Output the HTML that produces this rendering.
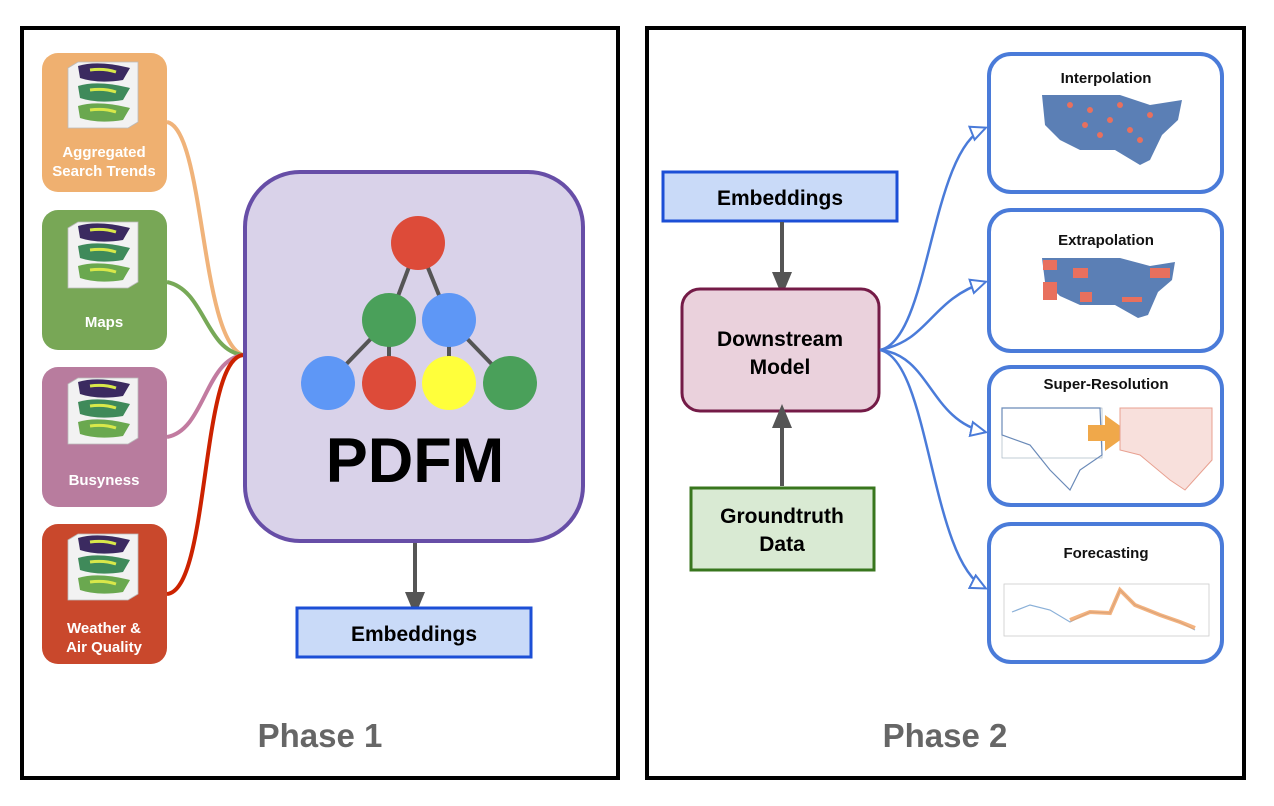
<!DOCTYPE html>
<html><head><meta charset="utf-8"><style>
html,body{margin:0;padding:0;background:#fff;}
svg{display:block;font-family:"Liberation Sans",sans-serif;}
</style></head><body>
<svg width="1274" height="806" viewBox="0 0 1274 806" xmlns="http://www.w3.org/2000/svg">
<defs>
<marker id="ah" markerWidth="18" markerHeight="18" refX="15" refY="9" orient="auto" markerUnits="userSpaceOnUse" viewBox="0 0 18 18">
<path d="M1,2 L16,9 L1,16 Z" fill="#fff" stroke="#4a7bd9" stroke-width="2"/></marker>
<marker id="gh" markerWidth="24" markerHeight="24" refX="12" refY="12" orient="auto" markerUnits="userSpaceOnUse" viewBox="0 0 24 24">
<path d="M0,2 L24,12 L0,22 Z" fill="#555"/></marker>
<g id="cube">
<path d="M0,6 L10,0 L70,0 L70,60 L60,66 L0,66 Z" fill="#f2f2f2" stroke="#bbb" stroke-width="0.8"/>
<path d="M10,4 Q30,-2 62,6 L55,18 Q30,22 12,16 Z" fill="#3b2a60"/>
<path d="M10,24 Q30,18 62,26 L55,38 Q30,42 12,36 Z" fill="#3f8a5a"/>
<path d="M10,44 Q30,38 62,46 L55,58 Q30,62 12,56 Z" fill="#6aa84f"/>
<path d="M22,8 Q36,6 48,10 M22,28 Q36,26 48,30 M22,48 Q36,46 48,50" stroke="#d8e84a" stroke-width="3" fill="none"/>
</g>
</defs>
<rect x="22" y="28" width="596" height="750" fill="#fff" stroke="#000" stroke-width="4"/>
<rect x="647" y="28" width="597" height="750" fill="#fff" stroke="#000" stroke-width="4"/>

<path d="M167,122 C205,130 200,340 243,355" stroke="#f0b37a" stroke-width="4" fill="none"/>
<path d="M167,282 C205,290 205,350 243,355" stroke="#77a957" stroke-width="4" fill="none"/>
<path d="M167,437 C205,430 205,360 243,355" stroke="#c27ba0" stroke-width="4" fill="none"/>
<path d="M167,594 C210,590 200,360 243,355" stroke="#cc2200" stroke-width="4" fill="none"/>

<rect x="42" y="53" width="125" height="139" rx="16" fill="#efb070"/>
<use href="#cube" x="68" y="62"/>
<text x="104" y="157" font-size="15" font-weight="bold" fill="#fff" text-anchor="middle">Aggregated</text>
<text x="104" y="176" font-size="15" font-weight="bold" fill="#fff" text-anchor="middle">Search Trends</text>
<rect x="42" y="210" width="125" height="140" rx="16" fill="#78a756"/>
<use href="#cube" x="68" y="222"/>
<text x="104" y="327" font-size="15" font-weight="bold" fill="#fff" text-anchor="middle">Maps</text>
<rect x="42" y="367" width="125" height="140" rx="16" fill="#b87c9e"/>
<use href="#cube" x="68" y="378"/>
<text x="104" y="485" font-size="15" font-weight="bold" fill="#fff" text-anchor="middle">Busyness</text>
<rect x="42" y="524" width="125" height="140" rx="16" fill="#c9482c"/>
<use href="#cube" x="68" y="534"/>
<text x="104" y="633" font-size="15" font-weight="bold" fill="#fff" text-anchor="middle">Weather &amp;</text>
<text x="104" y="652" font-size="15" font-weight="bold" fill="#fff" text-anchor="middle">Air Quality</text>

<rect x="245" y="172" width="338" height="369" rx="55" fill="#d9d2e9" stroke="#674ea7" stroke-width="4"/>
<g stroke="#555" stroke-width="4">
<line x1="418" y1="243" x2="389" y2="320"/><line x1="418" y1="243" x2="449" y2="320"/>
<line x1="389" y1="320" x2="328" y2="383"/><line x1="389" y1="320" x2="389" y2="383"/>
<line x1="449" y1="320" x2="449" y2="383"/><line x1="449" y1="320" x2="510" y2="383"/>
</g>
<circle cx="418" cy="243" r="27" fill="#dd4b39"/>
<circle cx="389" cy="320" r="27" fill="#4aa05a"/>
<circle cx="449" cy="320" r="27" fill="#5e97f6"/>
<circle cx="328" cy="383" r="27" fill="#5e97f6"/>
<circle cx="389" cy="383" r="27" fill="#dd4b39"/>
<circle cx="449" cy="383" r="27" fill="#ffff3b"/>
<circle cx="510" cy="383" r="27" fill="#4aa05a"/>
<text x="415" y="482" font-size="63" font-weight="bold" fill="#000" text-anchor="middle">PDFM</text>

<line x1="415" y1="543" x2="415" y2="604" stroke="#555" stroke-width="4" marker-end="url(#gh)"/>
<rect x="297" y="608" width="234" height="49" fill="#c9daf8" stroke="#1c4fd6" stroke-width="3"/>
<text x="414" y="641" font-size="21" font-weight="bold" text-anchor="middle">Embeddings</text>
<text x="320" y="747" font-size="33" font-weight="bold" fill="#666" text-anchor="middle">Phase 1</text>

<rect x="663" y="172" width="234" height="49" fill="#c9daf8" stroke="#1c4fd6" stroke-width="3"/>
<text x="780" y="205" font-size="21" font-weight="bold" text-anchor="middle">Embeddings</text>
<line x1="782" y1="222" x2="782" y2="284" stroke="#555" stroke-width="4" marker-end="url(#gh)"/>
<rect x="682" y="289" width="197" height="122" rx="18" fill="#ead1dc" stroke="#741b47" stroke-width="3"/>
<text x="780" y="346" font-size="21" font-weight="bold" text-anchor="middle">Downstream</text>
<text x="780" y="374" font-size="21" font-weight="bold" text-anchor="middle">Model</text>
<line x1="782" y1="486" x2="782" y2="416" stroke="#555" stroke-width="4" marker-end="url(#gh)"/>
<rect x="691" y="488" width="183" height="82" fill="#d9ead3" stroke="#38761d" stroke-width="3"/>
<text x="782" y="523" font-size="21" font-weight="bold" text-anchor="middle">Groundtruth</text>
<text x="782" y="551" font-size="21" font-weight="bold" text-anchor="middle">Data</text>
<text x="945" y="747" font-size="33" font-weight="bold" fill="#666" text-anchor="middle">Phase 2</text>

<g stroke="#4a7bd9" stroke-width="2.5" fill="none">
<path d="M880,350 C930,340 930,150 985,128" marker-end="url(#ah)"/>
<path d="M880,350 C930,340 930,300 985,282" marker-end="url(#ah)"/>
<path d="M880,350 C930,355 930,420 985,432" marker-end="url(#ah)"/>
<path d="M880,350 C930,360 930,560 985,588" marker-end="url(#ah)"/>
</g>

<g stroke="#4a7bd9" stroke-width="4" fill="#fff">
<rect x="989" y="54" width="233" height="138" rx="22"/>
<rect x="989" y="210" width="233" height="141" rx="22"/>
<rect x="989" y="367" width="233" height="138" rx="22"/>
<rect x="989" y="524" width="233" height="138" rx="22"/>
</g>
<g font-size="15" font-weight="bold" text-anchor="middle" fill="#111">
<text x="1106" y="83">Interpolation</text>
<text x="1106" y="245">Extrapolation</text>
<text x="1106" y="389">Super-Resolution</text>
<text x="1106" y="558">Forecasting</text>
</g>
<path d="M1042,95 L1120,95 L1150,105 L1182,100 L1178,120 L1162,135 L1150,160 L1140,165 L1115,150 L1080,150 L1060,140 L1045,125 Z" fill="#5b7fb5"/>
<g fill="#e8705e"><circle cx="1090" cy="110" r="3"/><circle cx="1110" cy="120" r="3"/><circle cx="1130" cy="130" r="3"/><circle cx="1100" cy="135" r="3"/><circle cx="1150" cy="115" r="3"/><circle cx="1070" cy="105" r="3"/><circle cx="1120" cy="105" r="3"/><circle cx="1140" cy="140" r="3"/><circle cx="1085" cy="125" r="3"/></g>
<path d="M1042,258 L1120,258 L1150,266 L1175,262 L1172,280 L1158,292 L1148,315 L1138,318 L1115,305 L1080,305 L1060,296 L1045,282 Z" fill="#5b7fb5"/>
<g fill="#e8705e"><rect x="1043" y="260" width="14" height="10"/><rect x="1073" y="268" width="15" height="10"/><rect x="1043" y="282" width="14" height="18"/><rect x="1080" y="292" width="12" height="10"/><rect x="1122" y="297" width="20" height="5"/><rect x="1150" y="268" width="20" height="10"/></g>
<rect x="1002" y="408" width="100" height="50" fill="#fff" stroke="#9ab" stroke-width="0.6"/>
<path d="M1002,408 L1100,408 L1102,455 L1080,470 L1070,490 L1050,470 L1030,445 L1002,435 Z" fill="none" stroke="#6a8ab8" stroke-width="1.2"/>
<path d="M1088,425 L1105,425 L1105,415 L1130,433 L1105,451 L1105,441 L1088,441 Z" fill="#f0a84a"/>
<path d="M1120,408 L1212,408 L1212,460 L1185,490 L1170,480 L1140,455 L1120,450 Z" fill="#f8e0dc" stroke="#e8a090" stroke-width="1"/>
<rect x="1004" y="584" width="205" height="52" fill="#fff" stroke="#ccc" stroke-width="0.8"/>
<path d="M1012,612 L1030,605 L1050,610 L1070,622 L1090,612 L1110,613 L1120,590 L1135,605 L1160,615 L1180,622 L1195,630" stroke="#8ab0d8" stroke-width="1.2" fill="none"/>
<path d="M1070,620 L1090,612 L1110,613 L1120,590 L1135,605 L1160,615 L1180,622 L1195,628" stroke="#f0a060" stroke-width="4" fill="none" opacity="0.8"/>
</svg>
</body></html>
